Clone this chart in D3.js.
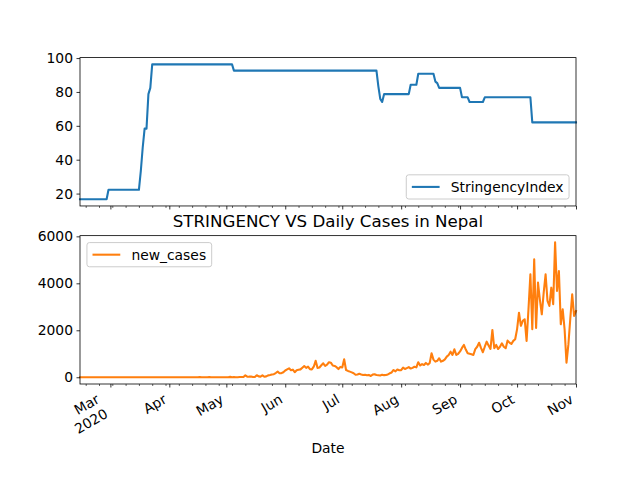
<!DOCTYPE html>
<html>
<head>
<meta charset="utf-8">
<script src="https://cdn.jsdelivr.net/npm/d3@7"></script>
<style>
  body { margin: 0; background: #fff; }
  text { font-family: "DejaVu Sans", sans-serif; fill: #000; }
</style>
</head>
<body>
<svg id="chart" width="640" height="480"></svg>
<script>
// daily values, one per day starting 2020-02-14 and ending 2020-11-01
var startDate = "2020-02-14";

// StringencyIndex, month by month
var siFeb = [16.67,16.67,16.67,16.67,16.67,16.67,16.67,16.67,16.67,16.67,16.67,16.67,16.67,16.67,16.67,22.22];
var siMar = [22.22,22.22,22.22,22.22,22.22,22.22,22.22,22.22,22.22,22.22,22.22,22.22,22.22,22.22,22.22,22.22,
             33.33,47.22,58.33,58.33,78.7,82.41,96.3,96.3,96.3,96.3,96.3,96.3,96.3,96.3,96.3];
var siApr = [96.3,96.3,96.3,96.3,96.3,96.3,96.3,96.3,96.3,96.3,96.3,96.3,96.3,96.3,96.3,
             96.3,96.3,96.3,96.3,96.3,96.3,96.3,96.3,96.3,96.3,96.3,96.3,96.3,96.3,96.3];
var siMay = [96.3,96.3,96.3,96.3,92.59,92.59,92.59,92.59,92.59,92.59,92.59,92.59,92.59,92.59,92.59,92.59,
             92.59,92.59,92.59,92.59,92.59,92.59,92.59,92.59,92.59,92.59,92.59,92.59,92.59,92.59,92.59];
var siJun = [92.59,92.59,92.59,92.59,92.59,92.59,92.59,92.59,92.59,92.59,92.59,92.59,92.59,92.59,92.59,
             92.59,92.59,92.59,92.59,92.59,92.59,92.59,92.59,92.59,92.59,92.59,92.59,92.59,92.59,92.59];
var siJul = [92.59,92.59,92.59,92.59,92.59,92.59,92.59,92.59,92.59,92.59,92.59,92.59,92.59,92.59,92.59,92.59,
             92.59,92.59,92.59,83.33,75.93,74.07,78.7,78.7,78.7,78.7,78.7,78.7,78.7,78.7,78.7];
var siAug = [78.7,78.7,78.7,78.7,78.7,84.26,84.26,84.26,84.26,90.74,90.74,90.74,90.74,90.74,90.74,90.74,
             90.74,90.74,86.11,85.19,82.41,82.41,82.41,82.41,82.41,82.41,82.41,82.41,82.41,82.41,82.41];
var siSep = [82.41,76.85,76.85,76.85,76.85,74.07,74.07,74.07,74.07,74.07,74.07,74.07,74.07,76.85,76.85,
             76.85,76.85,76.85,76.85,76.85,76.85,76.85,76.85,76.85,76.85,76.85,76.85,76.85,76.85,76.85];
var siOct = [76.85,76.85,76.85,76.85,76.85,76.85,76.85,76.85,62.04,62.04,62.04,62.04,62.04,62.04,62.04,62.04,
             62.04,62.04,62.04,62.04,62.04,62.04,62.04,62.04,62.04,62.04,62.04,62.04,62.04,62.04,62.04];
var siNov = [62.04];

// new_cases, month by month
var ncFeb = [0,0,0,0,0,0,0,0,0,0,0,0,0,0,0,0];
var ncMar = [0,0,0,0,0,0,0,0,0,0,0,0,0,0,0,0,0,0,0,0,0,0,1,0,1,1,0,0,0,1,0];
var ncApr = [0,0,0,1,3,0,0,0,0,0,0,0,1,2,2,0,14,1,0,0,1,11,0,0,0,3,1,0,3,2];
var ncMay = [2,2,16,0,6,3,2,9,10,9,81,25,26,32,11,14,85,38,27,83,21,37,80,97,120,131,180,240,170,173,215];
var ncJun = [288,334,380,298,323,216,298,323,335,409,480,399,450,345,335,449,700,400,415,510,595,480,540,640,620,500,480,430,350,440];
var ncJul = [414,765,310,270,240,208,170,106,118,150,120,96,110,86,100,54,115,130,98,86,72,110,90,98,120,170,205,310,250,330,300];
var ncAug = [300,410,350,390,430,370,400,450,420,640,500,560,520,610,540,600,1020,750,665,700,810,665,700,760,880,950,1090,950,1190,950,1000];
var ncSep = [1100,1250,1375,1180,1020,1000,980,950,1200,1300,1470,1250,1065,1300,1515,1350,1205,2015,1235,1375,1205,1300,1445,1300,1235,1560,1475,1415,1550,1620];
var ncOct = [2050,2750,2190,2400,2470,1550,2900,4385,2045,5020,2100,4030,3300,2680,3600,4385,3250,3035,3815,3110,5743,3675,4525,2255,2895,2045,620,1400,2500,3530,2610];
var ncNov = [2820];

// ticks
var monthTicks = ["2020-03-01","2020-04-01","2020-05-01","2020-06-01","2020-07-01","2020-08-01","2020-09-01","2020-10-01","2020-11-01"];
var monthLabels = [["Mar","2020"],["Apr"],["May"],["Jun"],["Jul"],["Aug"],["Sep"],["Oct"],["Nov"]];
var topYTicks = [20, 40, 60, 80, 100];
var bottomYTicks = [0, 2000, 4000, 6000];

var stringency = [].concat(siFeb, siMar, siApr, siMay, siJun, siJul, siAug, siSep, siOct, siNov);
var newCases = [].concat(ncFeb, ncMar, ncApr, ncMay, ncJun, ncJul, ncAug, ncSep, ncOct, ncNov);

var fontPx = 10 * 100 / 72;   // matplotlib 10pt at 100 dpi
var left = 80, right = 576;
var topBox = { y0: 57.6, y1: 205.96 };
var botBox = { y0: 235.64, y1: 384 };

var svg = d3.select("#chart");
svg.append("rect").attr("width", 640).attr("height", 480).attr("fill", "#fff");

var parse = d3.utcParse("%Y-%m-%d");
var start = parse(startDate);
var dates = stringency.map(function (v, i) { return d3.utcDay.offset(start, i); });
var x = d3.scaleUtc().domain([dates[0], dates[dates.length - 1]]).range([left, right]);

function padded(vals) {
    var e = d3.extent(vals), m = (e[1] - e[0]) * 0.05;
    return [e[0] - m, e[1] + m];
}
var yTop = d3.scaleLinear().domain(padded(stringency)).range([topBox.y1, topBox.y0]);
var yBot = d3.scaleLinear().domain(padded(newCases)).range([botBox.y1, botBox.y0]);

var majors = monthTicks.map(parse);
var minors = d3.utcMonday.range(dates[0], d3.utcDay.offset(dates[dates.length - 1], 1))
    .filter(function (d) { return !majors.some(function (m) { return +m === +d; }); });

function drawPanel(box, y, yTicks, values, color) {
    var g = svg.append("g");
    var line = d3.line()
        .x(function (d, i) { return x(dates[i]); })
        .y(function (d) { return y(d); });
    g.append("path").datum(values)
        .attr("d", line)
        .attr("fill", "none")
        .attr("stroke", color)
        .attr("stroke-width", 2.08)
        .attr("stroke-linejoin", "round")
        .attr("stroke-linecap", "square");

    // y axis
    var ya = g.append("g").attr("transform", "translate(" + left + ",0)")
        .call(d3.axisLeft(y).tickValues(yTicks).tickFormat(d3.format("d"))
            .tickSize(3.5).tickPadding(3.5).tickSizeOuter(0));
    ya.select(".domain").remove();
    ya.selectAll("text").style("font-size", fontPx + "px").style("font-family", "DejaVu Sans");
    ya.selectAll("line").attr("stroke-width", 0.8);

    // x ticks, major and minor
    var xa = g.append("g").attr("transform", "translate(0," + box.y1 + ")")
        .call(d3.axisBottom(x).tickValues(majors).tickSize(3.5).tickFormat("").tickSizeOuter(0));
    xa.select(".domain").remove();
    xa.selectAll("line").attr("stroke-width", 0.8);
    var xm = g.append("g").attr("transform", "translate(0," + box.y1 + ")")
        .call(d3.axisBottom(x).tickValues(minors).tickSize(2).tickFormat("").tickSizeOuter(0));
    xm.select(".domain").remove();
    xm.selectAll("line").attr("stroke-width", 0.6);

    // spines
    g.append("rect")
        .attr("x", left).attr("y", box.y0)
        .attr("width", right - left).attr("height", box.y1 - box.y0)
        .attr("fill", "none").attr("stroke", "#000").attr("stroke-width", 0.8);
    return g;
}

function drawLegend(box, label, color, loc) {
    var pad = 0.5 * fontPx, bp = 0.4 * fontPx, hl = 2 * fontPx, htp = 0.8 * fontPx;
    var lg = svg.append("g");
    var frame = lg.append("rect");
    var txt = lg.append("text").text(label).style("font-size", fontPx + "px");
    var tw = txt.node().getComputedTextLength();
    var w = 2 * bp + hl + htp + tw, h = 24.2;
    var lx = loc === "lower right" ? right - pad - w : left + pad;
    var ly = loc === "lower right" ? box.y1 - pad - h : box.y0 + pad;
    frame.attr("x", lx).attr("y", ly).attr("width", w).attr("height", h)
        .attr("rx", 2.5).attr("fill", "#fff").attr("fill-opacity", 0.8)
        .attr("stroke", "#cccccc").attr("stroke-width", 1);
    lg.append("line")
        .attr("x1", lx + bp).attr("x2", lx + bp + hl)
        .attr("y1", ly + h / 2).attr("y2", ly + h / 2)
        .attr("stroke", color).attr("stroke-width", 2.08);
    txt.attr("x", lx + bp + hl + htp).attr("y", ly + h / 2 + 0.36 * fontPx);
}

drawPanel(topBox, yTop, topYTicks, stringency, "#1f77b4");
drawPanel(botBox, yBot, bottomYTicks, newCases, "#ff7f0e");
drawLegend(topBox, "StringencyIndex", "#1f77b4", "lower right");
drawLegend(botBox, "new_cases", "#ff7f0e", "upper left");

// rotated month labels under the lower panel
var lineH = 1.2 * fontPx, boxH = 1.164 * fontPx, asc = 0.93 * fontPx;
majors.forEach(function (d, i) {
    var lines = monthLabels[i];
    var h = (lines.length - 1) * lineH + boxH;
    var g = svg.append("g")
        .attr("transform", "translate(" + (x(d) - 0.5 * h) + "," + (botBox.y1 + 7) + ") rotate(-30)");
    lines.forEach(function (s, k) {
        g.append("text").text(s)
            .attr("x", 0).attr("y", asc + k * lineH)
            .attr("text-anchor", "end")
            .style("font-size", fontPx + "px");
    });
});

svg.append("text").text("STRINGENCY VS Daily Cases in Nepal")
    .attr("x", (left + right) / 2).attr("y", 226.5)
    .attr("text-anchor", "middle")
    .style("font-size", (12 * 100 / 72) + "px");

svg.append("text").text("Date")
    .attr("x", (left + right) / 2).attr("y", 453)
    .attr("text-anchor", "middle")
    .style("font-size", fontPx + "px");
</script>
</body>
</html>
